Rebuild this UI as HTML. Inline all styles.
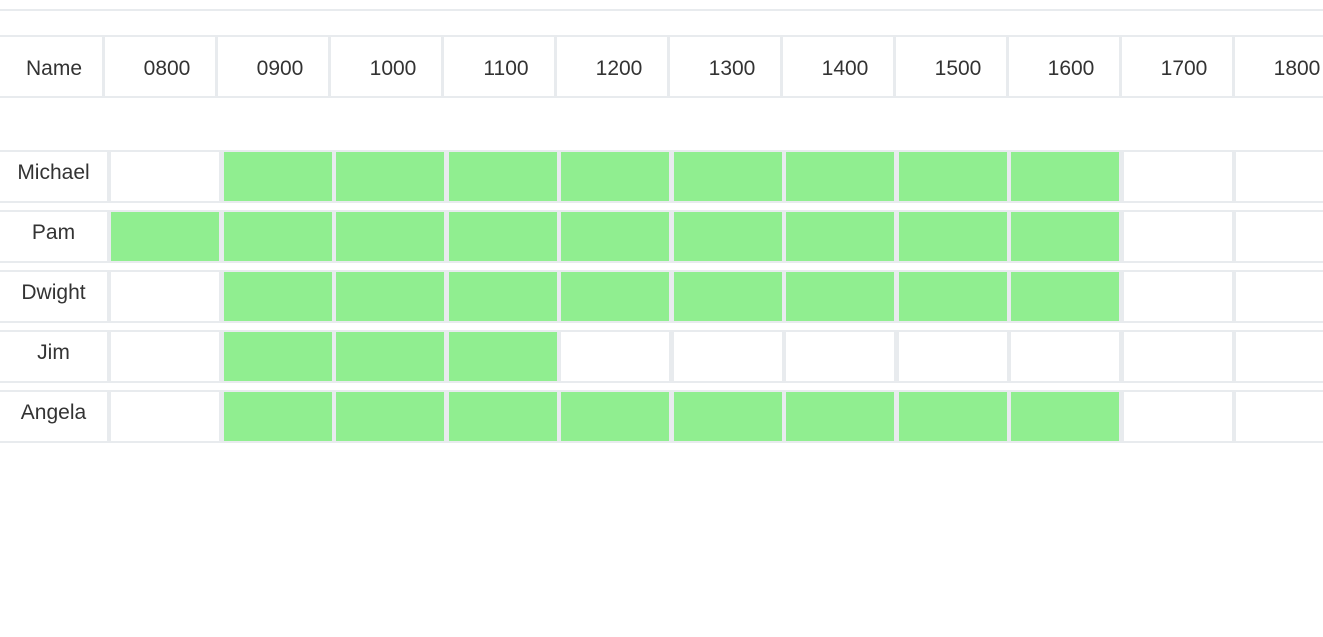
<!DOCTYPE html>
<html><head><meta charset="utf-8"><style>
body{margin:0;width:1323px;height:637px;background:#fff;position:relative;overflow:hidden;font-family:"Segoe UI","Liberation Sans",sans-serif;color:#333}
.a{position:absolute;box-sizing:border-box}
.band{background:#e8ebee}
.cell{background:#fff;display:flex;align-items:center;justify-content:center;font-size:21px}
.on{background:#90ee90}
</style></head><body>
<div class="a" style="left:0;top:9px;width:1323px;height:2px;background:#e8ebee"></div>
<div id="chart"></div>
<script>
const hours=["0800","0900","1000","1100","1200","1300","1400","1500","1600","1700","1800"];
const names=["Michael","Pam","Dwight","Jim","Angela"];
const starts=[1,0,1,1,1];
const ends=[8,8,8,3,8];
const root=document.getElementById('chart');
function mk(cls,l,t,w,h,txt){const d=document.createElement('div');d.className='a '+cls;d.style.left=l+'px';d.style.top=t+'px';d.style.width=w+'px';d.style.height=h+'px';if(txt)d.textContent=txt;root.appendChild(d);return d;}
const hb=mk('band',0,35,1323,63);


const nh=mk('cell',0,37,102,59,'Name');nh.style.paddingLeft='6px';nh.style.paddingTop='4px';


hours.forEach((h,i)=>{const c=mk('cell',105+i*113,37,110,59,h);c.style.paddingLeft='14px';c.style.paddingTop='4px';

});
names.forEach((n,r)=>{const y=150+r*60;
const b=mk('band',0,y,1323,53);


const nc=mk('cell',0,y+2,107,49,n);nc.style.paddingBottom='8px';


hours.forEach((h,i)=>{const on=i>=starts[r]&&i<=ends[r];
const c=mk('cell'+(on?' on':''),Math.round(111+i*112.5),y+2,108,49);

});
});
</script>
</body></html>
